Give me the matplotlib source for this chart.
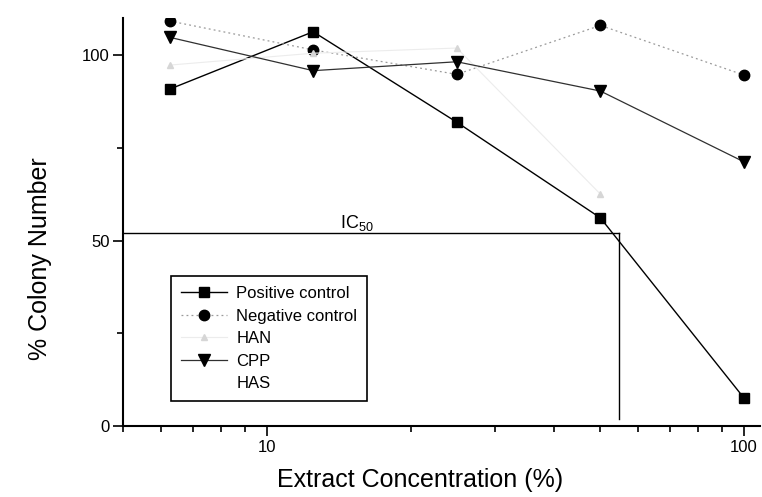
import numpy as np
import matplotlib
matplotlib.use('Agg')
import matplotlib.pyplot as plt
from matplotlib.ticker import MultipleLocator, LogLocator, NullFormatter, FixedLocator, FixedFormatter

plt.rcParams['font.family'] = ['Liberation Sans', 'DejaVu Sans']
plt.rcParams['mathtext.default'] = 'regular'

# data
conc = [6.25, 12.5, 25, 50, 100]
positive = [90.8, 106.3, 81.9, 56.1, 7.5]
negative = [109.2, 101.4, 94.8, 108.0, 94.6]
han = [97.3, 100.5, 101.9, 62.5, np.nan]
cpp = [104.8, 95.8, 98.2, 90.3, 71.2]
has = []          # not visible in the scan
ic50_x = 54.8
ic50_y = 52.0

fig = plt.figure(figsize=(7.62, 4.97), dpi=100)
ax = fig.add_axes([0.1618, 0.1429, 0.8356, 0.8209])

ax.plot(conc, positive, color='black', lw=1.0, marker='s', ms=7.5,
        mfc='black', mec='black', label='Positive control')
ax.plot(conc, negative, color='#9a9a9a', lw=0.9, ls=(0, (1.5, 2.5)), marker='o', ms=7.5,
        mfc='black', mec='black', label='Negative control')
ax.plot(conc, han, color='#ececec', lw=0.8, marker='^', ms=4,
        mfc='#d6d6d6', mec='#d6d6d6', label='HAN')
ax.plot(conc, cpp, color='#303030', lw=0.9, marker='v', ms=9,
        mfc='black', mec='black', label='CPP')
ax.plot(has, has, color='white', lw=0.8, label='HAS')

# IC50 construction lines
ax.plot([5, ic50_x], [ic50_y, ic50_y], color='black', lw=1.0)
ax.plot([ic50_x, ic50_x], [ic50_y, 2], color='black', lw=1.0)
ax.text(14.2, 53.3, 'IC$_{50}$', fontsize=13, ha='left', va='baseline')

ax.set_xscale('log')
ax.set_xlim(5, 108)
ax.set_ylim(0, 110)

ax.xaxis.set_major_locator(FixedLocator([10, 100]))
ax.xaxis.set_major_formatter(FixedFormatter(['10', '100']))
ax.xaxis.set_minor_locator(LogLocator(base=10, subs=np.arange(2, 10)))
ax.xaxis.set_minor_formatter(NullFormatter())
ax.yaxis.set_major_locator(MultipleLocator(50))
ax.yaxis.set_minor_locator(MultipleLocator(25))

for s in ['top', 'right']:
    ax.spines[s].set_visible(False)
for s in ['left', 'bottom']:
    ax.spines[s].set_linewidth(1.5)

ax.tick_params(which='major', direction='out', length=7, width=1.2, labelsize=12, pad=3)
ax.tick_params(which='minor', direction='out', length=4, width=1.2)

ax.set_xlabel('Extract Concentration (%)', fontsize=18)
ax.set_ylabel('% Colony Number', fontsize=18)
ax.xaxis.set_label_coords(0.466, -0.102)
ax.yaxis.set_label_coords(-0.112, 0.41)

leg = ax.legend(loc='upper left', bbox_to_anchor=(0.0744, 0.3676), borderaxespad=0,
                fontsize=12, frameon=True, fancybox=False, edgecolor='black',
                framealpha=1, handlelength=2.8, handletextpad=0.55,
                labelspacing=0.45, borderpad=0.6)
leg.get_frame().set_linewidth(1.2)

fig.savefig('out.png', dpi=100)
